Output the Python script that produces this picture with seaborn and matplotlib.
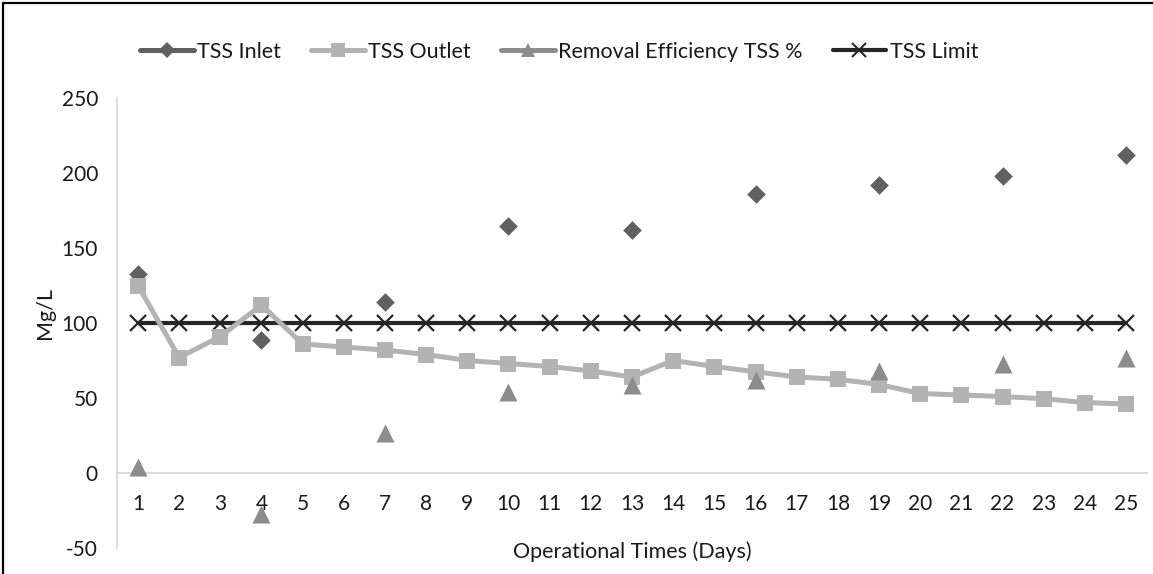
import matplotlib
matplotlib.use("Agg")
import matplotlib.pyplot as plt
from matplotlib.lines import Line2D
import seaborn as sns
import pandas as pd

days = list(range(1, 26))
tss_outlet = [125, 77, 91, 112, 86, 84, 82, 79, 75, 73, 71, 68, 64, 75, 71, 67.5,
              64, 62.5, 59, 53, 52, 51, 49.5, 47, 46]
sample_days = [1, 4, 7, 10, 13, 16, 19, 22, 25]
tss_inlet = [133, 89, 114, 165, 162, 186, 192, 198, 212]
removal_eff = [4, -27, 27, 54, 59, 62, 68, 73, 77]
tss_limit = [100] * 25
y_ticks = [-50, 0, 50, 100, 150, 200, 250]

sns.set_theme(style="white")
plt.rcParams["font.family"] = ["Lato", "DejaVu Sans"]
plt.rcParams["axes.unicode_minus"] = False

C_IN, C_OUT, C_REM, C_LIM = "#606060", "#b3b3b3", "#8c8c8c", "#262626"
TXT = "#1a1a1a"
FS = 15

fig = plt.figure(figsize=(11.53, 5.74), dpi=100)
ax = fig.add_axes([117.4 / 1153, 26 / 574, 1029.2 / 1153, 450 / 574])

df_out = pd.DataFrame({"day": days, "v": tss_outlet})
df_lim = pd.DataFrame({"day": days, "v": tss_limit})
df_in = pd.DataFrame({"day": sample_days, "v": tss_inlet})
df_rem = pd.DataFrame({"day": sample_days, "v": removal_eff})

sns.lineplot(data=df_lim, x="day", y="v", ax=ax, color=C_LIM, lw=3.0,
             marker="x", markersize=12, markeredgewidth=1.6, markeredgecolor=C_LIM, zorder=3)
sns.lineplot(data=df_out, x="day", y="v", ax=ax, color=C_OUT, lw=3.6,
             marker="s", markersize=12, markeredgewidth=0, zorder=4)
sns.scatterplot(data=df_rem, x="day", y="v", ax=ax, marker="^", s=13 ** 2,
                color=C_REM, linewidth=0, zorder=5)
sns.scatterplot(data=df_in, x="day", y="v", ax=ax, marker="D", s=9.5 ** 2,
                color=C_IN, linewidth=0, zorder=2)

ax.set_xlim(0.5, 25.5)
ax.set_ylim(-50, 250)
ax.set_yticks(y_ticks)
ax.set_xticks(days)
ax.set_xticklabels([str(d) for d in days])
for s in ["top", "right"]:
    ax.spines[s].set_visible(False)
ax.spines["bottom"].set_position(("data", 0))
ax.spines["bottom"].set_color("#d9d9d9")
ax.spines["left"].set_color("#d9d9d9")
ax.spines["bottom"].set_linewidth(1.3)
ax.spines["left"].set_linewidth(1.3)
ax.tick_params(axis="x", length=0, pad=15, labelsize=FS, colors=TXT)
ax.tick_params(axis="y", length=0, pad=14, labelsize=FS, colors=TXT)
ax.set_xlabel("")
ax.set_ylabel("")
fig.text(632 / 1153, 1 - 552 / 574, "Operational Times (Days)",
         ha="center", va="center", fontsize=FS + 0.5, color=TXT)
fig.text(45 / 1153, 1 - 313 / 574, "Mg/L", rotation=90, ha="center", va="center",
         fontsize=FS + 0.5, color=TXT)

handles = [
    Line2D([], [], color=C_IN, lw=3.6, marker="D", markersize=8, markeredgewidth=0),
    Line2D([], [], color=C_OUT, lw=3.6, marker="s", markersize=10, markeredgewidth=0),
    Line2D([], [], color=C_REM, lw=3.6, marker="^", markersize=10, markeredgewidth=0),
    Line2D([], [], color=C_LIM, lw=3.0, marker="x", markersize=10, markeredgewidth=1.5),
]
labels = ["TSS Inlet", "TSS Outlet", "Removal Efficiency TSS %", "TSS Limit"]
fig.legend(handles, labels, loc="center", bbox_to_anchor=(559 / 1153, 1 - 52 / 574),
           ncol=4, frameon=False, fontsize=FS + 0.5, handlelength=2.5, handletextpad=0.15,
           columnspacing=1.4, labelcolor=TXT)

fig.add_artist(Line2D([3 / 1153, 3 / 1153], [0, 1 - 3 / 574], color="black", lw=1.6))
fig.add_artist(Line2D([3 / 1153, 1], [1 - 3 / 574, 1 - 3 / 574], color="black", lw=1.6))

fig.savefig("out.png", dpi=100)
